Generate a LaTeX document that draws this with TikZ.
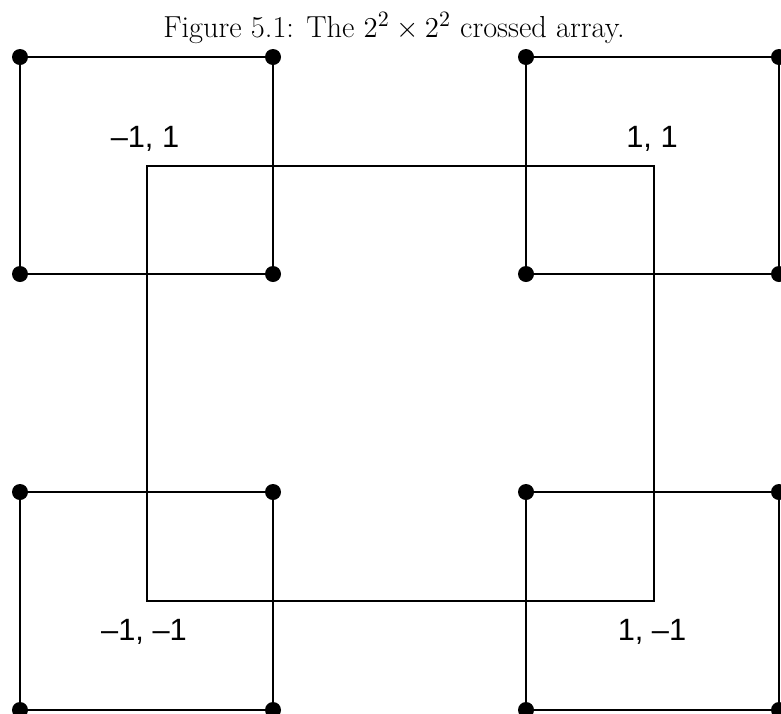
\documentclass[tikz,border=0pt]{standalone}
\usepackage{fontspec}
\newfontfamily\labelfont{Liberation Sans}
\usepackage{tikz}
\usetikzlibrary{positioning}

\begin{document}
\begin{tikzpicture}[x=0.5pt, y=-0.5pt,
    dot/.style={circle, fill=black, inner sep=0pt, minimum size=8pt},
    side/.style={line width=1pt},
    frame/.style={line width=0.85pt},
    lbl/.style={font=\labelfont\fontsize{15.4}{18}\selectfont, anchor=base, inner sep=0pt}]
    \useasboundingbox (0, 0) rectangle (781, 713);

    % 标题
    \node[anchor=base, inner sep=0pt, font=\fontsize{15.2}{18}\selectfont] (cap) at (394, 37) {Figure 5.1: The $2^2 \times 2^2$ crossed array.};

    % 中间矩形
    \coordinate (c1) at (147, 166); \coordinate (c2) at (654, 166);
    \coordinate (c3) at (654, 601); \coordinate (c4) at (147, 601);
    \draw[frame] (c1) -- (c2) -- (c3) -- (c4) -- cycle;

    % 四个角点方块
    \node[dot] (a1) at (20, 57) {};  \node[dot] (a2) at (273, 57) {};  \node[dot] (a3) at (273, 274) {}; \node[dot] (a4) at (20, 274) {};
    \node[dot] (b1) at (526, 57) {}; \node[dot] (b2) at (779, 57) {};  \node[dot] (b3) at (779, 274) {}; \node[dot] (b4) at (526, 274) {};
    \node[dot] (d1) at (20, 492) {}; \node[dot] (d2) at (273, 492) {}; \node[dot] (d3) at (273, 710) {}; \node[dot] (d4) at (20, 710) {};
    \node[dot] (e1) at (526, 492) {}; \node[dot] (e2) at (779, 492) {}; \node[dot] (e3) at (779, 710) {}; \node[dot] (e4) at (526, 710) {};

    \draw[side] (a1) -- (a2) -- (a3) -- (a4) -- (a1);
    \draw[side] (b1) -- (b2) -- (b3) -- (b4) -- (b1);
    \draw[side] (d1) -- (d2) -- (d3) -- (d4) -- (d1);
    \draw[side] (e1) -- (e2) -- (e3) -- (e4) -- (e1);

    % 标签
    \node[lbl] (lmp) at (145, 147) {–1, 1};  \node[lbl] (lpp) at (652, 147) {1, 1};
    \node[lbl] (lmm) at (144, 640) {–1, –1}; \node[lbl] (lpm) at (652, 640) {1, –1};
\end{tikzpicture}
\end{document}
